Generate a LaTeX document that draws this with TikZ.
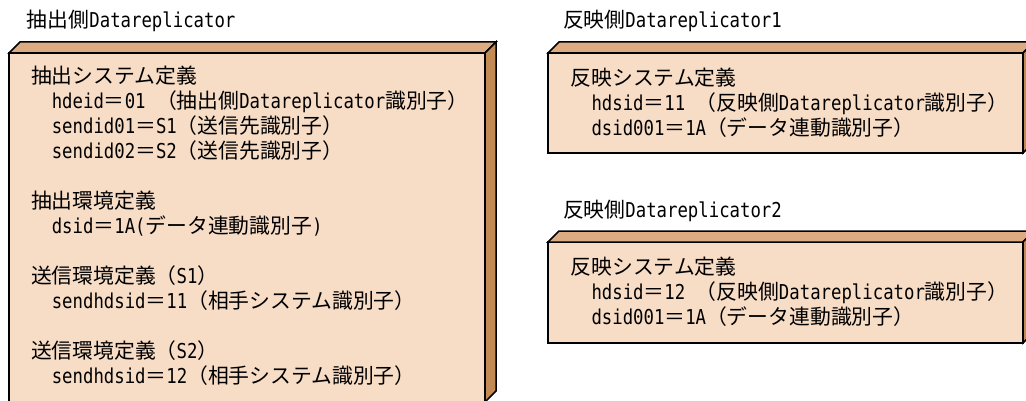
\documentclass[tikz,border=0pt]{standalone}
\usepackage{fontspec}
\setmainfont[FakeStretch=0.845]{DejaVu Sans Mono}
\newfontfamily\jpfont[Scale=1.015]{Noto Sans CJK JP}
\newcommand{\jp}[1]{{\jpfont #1}}
\newcommand{\ind}{\hspace*{20.8pt}}
\usetikzlibrary{positioning}
\definecolor{drfront}{HTML}{F7DCC6}
\definecolor{drtop}{HTML}{DCAB82}
\definecolor{drside}{HTML}{C28A55}

\begin{document}
\begin{tikzpicture}[
    x=1pt, y=-1pt,
    every node/.style={inner sep=0pt, outer sep=0pt, font=\fontsize{20.5}{25}\selectfont},
    slab/.style={draw, line width=1.5pt, fill=drfront, anchor=north west},
    topface/.style={draw, line width=1.5pt, fill=drtop},
    sideface/.style={draw, line width=1.5pt, fill=drside},
    caption/.style={anchor=base west},
    deftext/.style={anchor=north west, align=left}
  ]
    \useasboundingbox (0,0) rectangle (1026,401);

    % front faces
    \node[slab, minimum width=476pt, minimum height=349pt] (src) at (9,53) {};
    \node[slab, minimum width=475pt, minimum height=100pt] (dst1) at (548,53) {};
    \node[slab, minimum width=475pt, minimum height=101pt] (dst2) at (548,242) {};

    % top and side faces
    \foreach \b in {src,dst1,dst2} {
      \draw[topface] (\b.north west) -- ++(11,-11) -- ([shift={(11,-11)}]\b.north east) -- (\b.north east) -- cycle;
      \draw[sideface] (\b.north east) -- ++(11,-11) -- ([shift={(11,-11)}]\b.south east) -- (\b.south east) -- cycle;
    }

    \node[caption] (srctitle) at (27,28) {\jp{抽出側}Datareplicator};
    \node[caption] (dst1title) at (563,28) {\jp{反映側}Datareplicator1};
    \node[caption] (dst2title) at (563,218) {\jp{反映側}Datareplicator2};

    \node[deftext] (srcdef) at ([shift={(22,12.5)}]src.north west) {%
      \jp{抽出システム定義}\\
      \ind hdeid\jp{＝}01 \jp{（抽出側}Datareplicator\jp{識別子）}\\
      \ind sendid01\jp{＝}S1\jp{（送信先識別子）}\\
      \ind sendid02\jp{＝}S2\jp{（送信先識別子）}\\[25pt]
      \jp{抽出環境定義}\\
      \ind dsid\jp{＝}1A(\jp{データ連動識別子})\\[25pt]
      \jp{送信環境定義（}S1\jp{）}\\
      \ind sendhdsid\jp{＝}11\jp{（相手システム識別子）}\\[25pt]
      \jp{送信環境定義（}S2\jp{）}\\
      \ind sendhdsid\jp{＝}12\jp{（相手システム識別子）}};

    \node[deftext] (dst1def) at ([shift={(22.7,14.6)}]dst1.north west) {%
      \jp{反映システム定義}\\
      \ind hdsid\jp{＝}11 \jp{（反映側}Datareplicator\jp{識別子）}\\
      \ind dsid001\jp{＝}1A\jp{（データ連動識別子）}};

    \node[deftext] (dst2def) at ([shift={(22.7,14.6)}]dst2.north west) {%
      \jp{反映システム定義}\\
      \ind hdsid\jp{＝}12 \jp{（反映側}Datareplicator\jp{識別子）}\\
      \ind dsid001\jp{＝}1A\jp{（データ連動識別子）}};
\end{tikzpicture}
\end{document}
